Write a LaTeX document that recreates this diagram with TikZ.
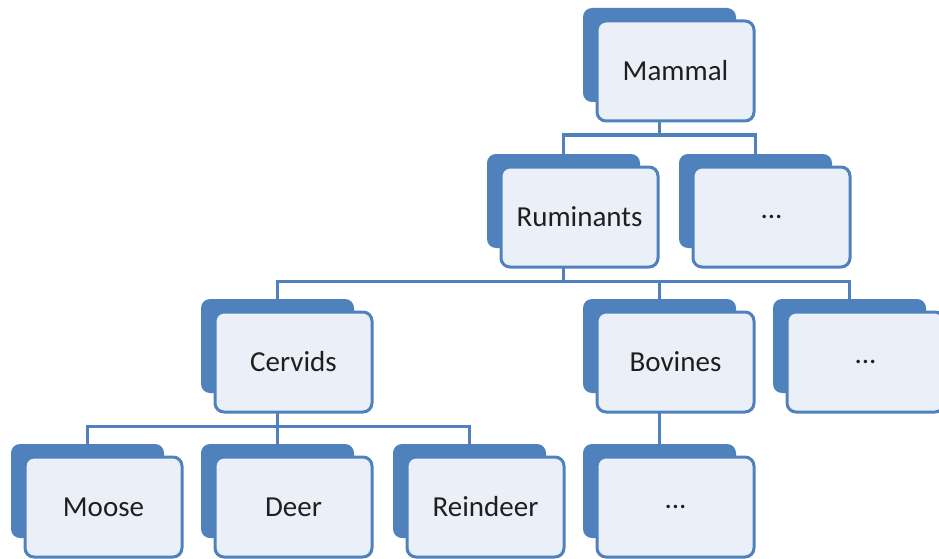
\documentclass[tikz,border=0pt]{standalone}
\usepackage{fontspec}
\setmainfont{Carlito}
\usetikzlibrary{backgrounds}
\definecolor{sablue}{HTML}{4F81BD}
\definecolor{safill}{HTML}{EBF0F8}
\tikzset{
  backbox/.style={fill=sablue, rounded corners=9pt, minimum width=153pt, minimum height=94pt, inner sep=0pt, outer sep=0pt, anchor=north west},
  frontbox/.style={fill=safill, draw=sablue, line width=3pt, rounded corners=9pt, minimum width=157pt, minimum height=100pt, inner sep=0pt, outer sep=0pt, anchor=north west, font=\fontsize{29}{34}\selectfont, text=black!88},
  link/.style={draw=sablue, line width=3pt}
}
\newcommand\orgbox[4]{%
  \node[backbox] (#1-b) at (#2,#3) {};
  \node[frontbox] (#1) at (#2+14,#3+13) {#4};
}
\begin{document}
\begin{tikzpicture}[x=1pt,y=-1pt]
\useasboundingbox (0,0) rectangle (939,559);
\orgbox{mammal}{583}{8}{Mammal}
\orgbox{rum}{487}{154}{Ruminants}
\orgbox{dotsa}{679}{154}{...}
\orgbox{cerv}{201}{299}{Cervids}
\orgbox{bov}{583}{299}{Bovines}
\orgbox{dotsb}{773}{299}{...}
\orgbox{moose}{11}{444}{Moose}
\orgbox{deer}{201}{444}{Deer}
\orgbox{rein}{393}{444}{Reindeer}
\orgbox{dotsc}{583}{444}{...}
\begin{scope}[on background layer]
  \draw[link] (mammal-b.south) -- ++(0,33) -| (rum-b.north);
  \draw[link] (mammal-b.south) -- ++(0,33) -| (dotsa-b.north);
  \draw[link] (rum-b.south) -- ++(0,33) -| (cerv-b.north);
  \draw[link] (rum-b.south) -- ++(0,33) -| (bov-b.north);
  \draw[link] (rum-b.south) -- ++(0,33) -| (dotsb-b.north);
  \draw[link] (cerv-b.south) -- ++(0,33) -| (moose-b.north);
  \draw[link] (cerv-b.south) -- ++(0,33) -| (deer-b.north);
  \draw[link] (cerv-b.south) -- ++(0,33) -| (rein-b.north);
  \draw[link] (bov-b.south) -- (dotsc-b.north);
\end{scope}
\end{tikzpicture}
\end{document}
